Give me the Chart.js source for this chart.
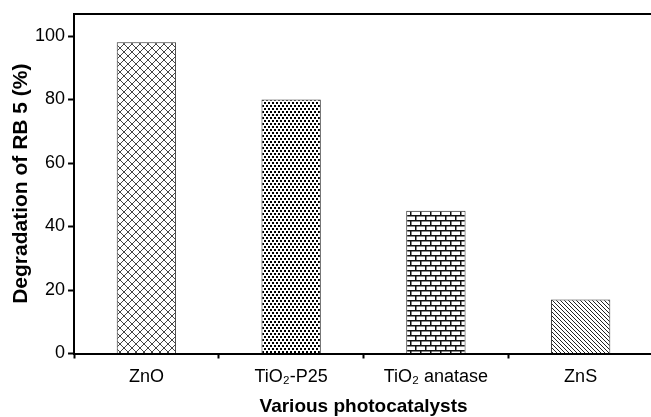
<!DOCTYPE html>
<html>
<head>
<meta charset="utf-8">
<script src="https://cdn.jsdelivr.net/npm/chart.js@4.4.1/dist/chart.umd.min.js"></script>
<style>
  html, body { margin: 0; padding: 0; background: #fff; overflow: hidden; }
  #wrap { width: 651px; height: 417px; overflow: hidden; }
</style>
</head>
<body>
<div id="wrap"><canvas id="chart" width="655" height="417"></canvas></div>
<script>
const categories = ["ZnO", "TiO\u2082-P25", "TiO\u2082 anatase", "ZnS"];
const degradation = [98, 80, 45, 17];
const yTicks = [0, 20, 40, 60, 80, 100];

// fill patterns for the bars
function makePattern(kind) {
    const c = document.createElement("canvas");
    const g = c.getContext("2d");
    if (kind === "cross") {
        c.width = 8; c.height = 8;
        g.fillStyle = "#fff"; g.fillRect(0, 0, 8, 8);
        g.strokeStyle = "#444"; g.lineWidth = 1;
        g.beginPath();
        g.moveTo(-1, -1); g.lineTo(9, 9);
        g.moveTo(-1, 9); g.lineTo(9, -1);
        g.stroke();
    } else if (kind === "dots") {
        c.width = 8; c.height = 6;
        g.fillStyle = "#fff"; g.fillRect(0, 0, 8, 6);
        g.fillStyle = "#000";
        g.fillRect(0, 0, 2, 2); g.fillRect(4, 0, 2, 2);
        g.fillRect(2, 3, 2, 2); g.fillRect(6, 3, 2, 2);
    } else if (kind === "brick") {
        c.width = 10; c.height = 10;
        g.fillStyle = "#fff"; g.fillRect(0, 0, 10, 10);
        g.fillStyle = "#111";
        g.fillRect(0, 0, 10, 1.5); g.fillRect(0, 5, 10, 1.5);
        g.fillRect(0, 0, 1.5, 5); g.fillRect(5, 5, 1.5, 5);
    } else {
        c.width = 4; c.height = 4;
        g.fillStyle = "#fff"; g.fillRect(0, 0, 4, 4);
        g.strokeStyle = "#222"; g.lineWidth = 1;
        g.beginPath();
        g.moveTo(-1, -1); g.lineTo(5, 5);
        g.moveTo(-1, 3); g.lineTo(1, 5);
        g.moveTo(3, -1); g.lineTo(5, 1);
        g.stroke();
    }
    return g.createPattern(c, "repeat");
}

const fills = ["cross", "dots", "brick", "diag"].map(makePattern);

const font = "'Liberation Sans', Arial, sans-serif";

new Chart(document.getElementById("chart").getContext("2d"), {
    type: "bar",
    data: {
        labels: categories,
        datasets: [{
            data: degradation,
            backgroundColor: fills,
            borderColor: "#333",
            borderWidth: 1,
            barPercentage: 0.41,
            categoryPercentage: 1
        }]
    },
    options: {
        responsive: false,
        animation: false,
        layout: { padding: { top: 11, right: 2, left: 11, bottom: 0 } },
        plugins: { legend: { display: false }, tooltip: { enabled: false } },
        scales: {
            x: {
                grid: { display: true, drawOnChartArea: false, tickLength: 5, tickWidth: 2, tickColor: "#000", offset: true },
                border: { display: true, width: 2, color: "#000" },
                ticks: { color: "#000", font: { family: font, size: 18 }, padding: 8 },
                title: { display: true, text: "Various photocatalysts", color: "#000", font: { family: font, size: 19, weight: "bold", lineHeight: 1.1 }, padding: { top: 0, bottom: 0 } }
            },
            xTop: {
                position: "top",
                grid: { display: false, drawTicks: false },
                border: { display: true, width: 2, color: "#000" },
                ticks: { display: false }
            },
            y: {
                min: 0,
                max: 107,
                afterBuildTicks: axis => { axis.ticks = yTicks.map(v => ({ value: v })); },
                grid: { display: true, drawOnChartArea: false, tickLength: 6, tickWidth: 2, tickColor: "#000" },
                border: { display: true, width: 2, color: "#000" },
                ticks: { color: "#000", font: { family: font, size: 18 }, padding: 3 },
                title: { display: true, text: "Degradation of RB 5 (%)", color: "#000", font: { family: font, size: 21, weight: "bold", lineHeight: 1 }, padding: { top: 0, bottom: 0 } }
            }
        }
    }
});
</script>
</body>
</html>
